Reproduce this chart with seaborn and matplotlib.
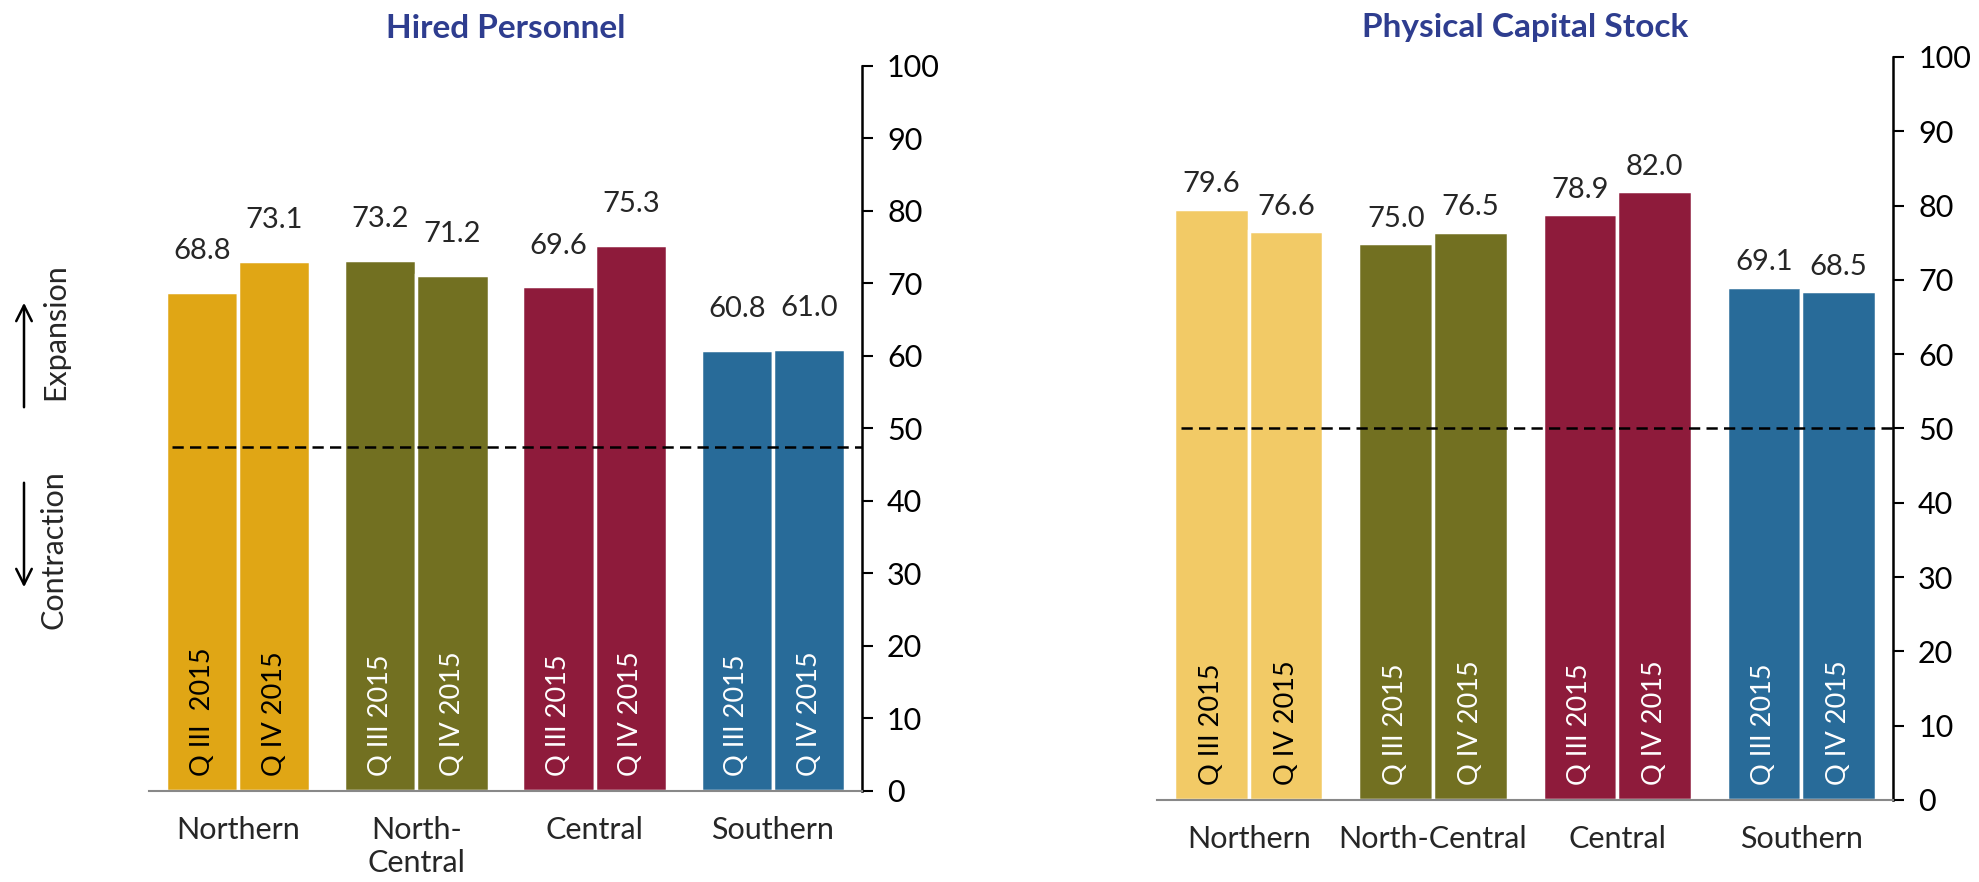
import pandas as pd
import numpy as np
import matplotlib.pyplot as plt
from matplotlib.patches import FancyArrowPatch
import seaborn as sns

# Data
regions = ["Northern", "North-Central", "Central", "Southern"]
quarters = ["Q III 2015", "Q IV 2015"]

hired_q3 = [68.8, 73.2, 69.6, 60.8]
hired_q4 = [73.1, 71.2, 75.3, 61.0]
capital_q3 = [79.6, 75.0, 78.9, 69.1]
capital_q4 = [76.6, 76.5, 82.0, 68.5]

hired_ticklabels = ["Northern", "North-\nCentral", "Central", "Southern"]
capital_ticklabels = ["Northern", "North-Central", "Central", "Southern"]
hired_inside = [["Q III  2015", "Q IV 2015"]] + [["Q III 2015", "Q IV 2015"]] * 3
capital_inside = [["Q III 2015", "Q IV 2015"]] * 4

hired_colors = ["#E0A615", "#727021", "#8E1B3B", "#286B99"]
capital_colors = ["#F2CA66", "#727021", "#8E1B3B", "#286B99"]
hired_text = ["black", "white", "white", "white"]
capital_text = ["black", "white", "white", "white"]

hired_ref = 47.5
capital_ref = 50

TITLE_COLOR = "#2E3D8F"

sns.set_style("white")
plt.rcParams['font.family'] = ['Lato', 'DejaVu Sans']


def draw_panel(ax, q3, q4, colors, text_colors, ticklabels, inside, ref, label_pad):
    df = pd.DataFrame({
        "region": regions * 2,
        "quarter": [quarters[0]] * 4 + [quarters[1]] * 4,
        "value": q3 + q4,
    })
    sns.barplot(data=df, x="region", y="value", hue="quarter", order=regions,
                hue_order=quarters, dodge=True, width=0.81, legend=False,
                errorbar=None, ax=ax)

    # recolour bars per region and add the quarter text inside
    for ci, cont in enumerate(ax.containers):
        for patch in cont.patches:
            xc = patch.get_x() + patch.get_width() / 2
            ri = int(round(xc))
            patch.set_facecolor(colors[ri])
            patch.set_edgecolor("white")
            patch.set_linewidth(2.5)
            ax.text(xc, 2.0, inside[ri][ci], rotation=90, ha="center",
                    va="bottom", fontsize=19.5, color=text_colors[ri])
        ax.bar_label(cont, fmt="%.1f", padding=label_pad, fontsize=21)

    ax.plot([-0.37, 3.5], [ref, ref], color="black", lw=1.8,
            ls=(0, (4.5, 2.5)), zorder=5)

    ax.set_xlim(-0.5, 3.5)
    ax.set_ylim(0, 100)
    ax.set_xlabel("")
    ax.set_ylabel("")

    ax.yaxis.tick_right()
    ax.set_yticks(np.arange(0, 101, 10))
    ax.tick_params(axis="y", direction="out", length=8, width=1.5,
                   labelsize=22, pad=10, colors="black")

    ax.set_xticks(range(4))
    ax.set_xticklabels(ticklabels)
    ax.set_xticks(np.arange(-0.5, 4, 1), minor=True)
    ax.tick_params(axis="x", which="major", length=0, labelsize=22, pad=18)
    ax.tick_params(axis="x", which="minor", length=9, width=1.5,
                   color="#888888", direction="out")

    for side in ["top", "left"]:
        ax.spines[side].set_visible(False)
    ax.spines["right"].set_color("black")
    ax.spines["right"].set_linewidth(1.8)
    ax.spines["bottom"].set_color("#888888")
    ax.spines["bottom"].set_linewidth(1.5)


fig = plt.figure(figsize=(19.79, 8.82), dpi=100)
ax1 = fig.add_axes([0.0753, 0.1032, 0.3603, 0.8220])
ax2 = fig.add_axes([0.5846, 0.0930, 0.3720, 0.8424])

draw_panel(ax1, hired_q3, hired_q4, hired_colors, hired_text,
           hired_ticklabels, hired_inside, hired_ref, 20)
draw_panel(ax2, capital_q3, capital_q4, capital_colors, capital_text,
           capital_ticklabels, capital_inside, capital_ref, 8)

fig.text(0.2555, 1 - 28 / 882, "Hired Personnel", ha="center", va="center",
         fontsize=24, fontweight="bold", color=TITLE_COLOR)
fig.text(0.7705, 1 - 28 / 882, "Physical Capital Stock", ha="center",
         va="center", fontsize=24, fontweight="bold", color=TITLE_COLOR)

# Expansion / Contraction guide on the left
fig.text(55 / 1979, 1 - 332 / 882, "Expansion", rotation=90, ha="center",
         va="center", fontsize=22)
fig.text(54 / 1979, 1 - 550 / 882, "Contraction", rotation=90, ha="center",
         va="center", fontsize=22)
fig.patches.append(FancyArrowPatch(
    (24 / 1979, 1 - 410 / 882), (24 / 1979, 1 - 300 / 882),
    transform=fig.transFigure, arrowstyle="->", mutation_scale=28, lw=1.8,
    color="black"))
fig.patches.append(FancyArrowPatch(
    (24 / 1979, 1 - 480 / 882), (24 / 1979, 1 - 590 / 882),
    transform=fig.transFigure, arrowstyle="->", mutation_scale=28, lw=1.8,
    color="black"))

fig.savefig("out.png", dpi=100)
